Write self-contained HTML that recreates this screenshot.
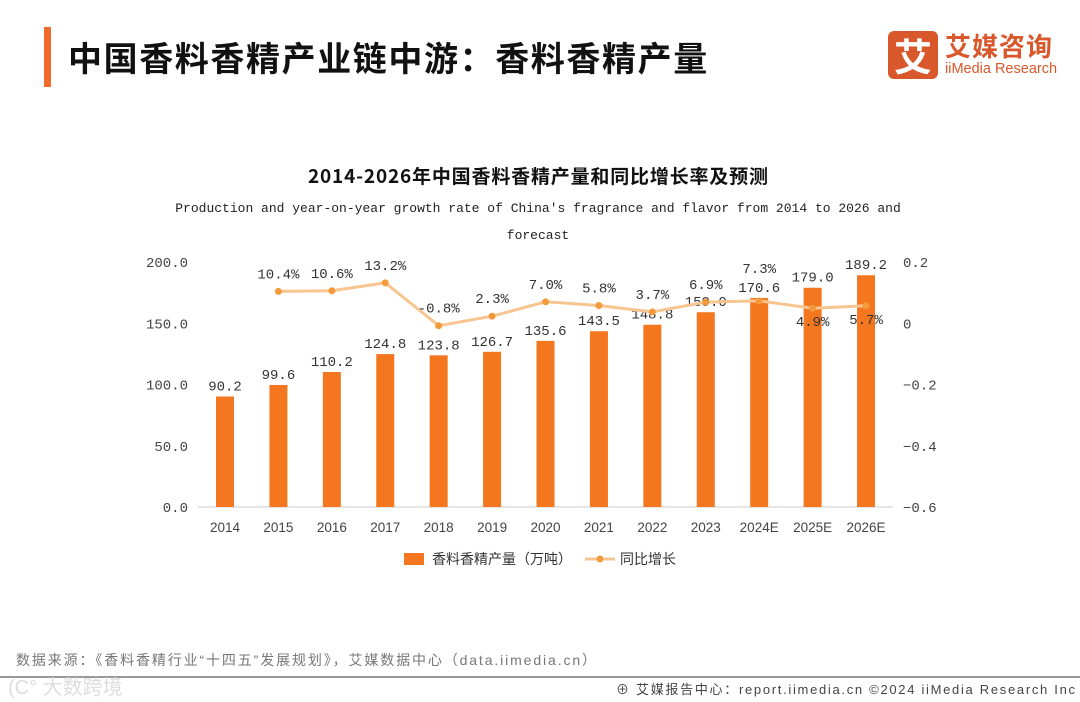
<!DOCTYPE html>
<html><head><meta charset="utf-8"><style>
body{margin:0;width:1080px;height:702px;background:#fff;overflow:hidden;position:relative;font-family:"Liberation Sans","Noto Sans CJK SC",sans-serif}
.abs{position:absolute}
</style></head><body>
<div class="abs" style="left:44px;top:27px;width:7px;height:60px;background:#ef6a2b"></div>
<div class="abs" style="left:68px;top:32px;font-size:34px;font-weight:bold;color:#111;font-family:'Noto Sans CJK SC',sans-serif;letter-spacing:1.6px">中国香料香精产业链中游：香料香精产量</div>
<div class="abs" style="left:888px;top:31px;width:175px;height:50px">
 <div style="position:absolute;left:0;top:0;width:50px;height:48px;background:#d9582b;border-radius:6px;color:#fff;font-size:38px;font-weight:bold;text-align:center;line-height:48px;font-family:'Noto Sans CJK SC',sans-serif">艾</div>
 <div style="position:absolute;left:57px;top:-4px;color:#d9582b;font-size:26px;font-weight:bold;font-family:'Noto Sans CJK SC',sans-serif;letter-spacing:1px">艾媒咨询</div>
 <div style="position:absolute;left:57px;top:30px;color:#d9582b;font-size:14.5px;white-space:nowrap">iiMedia Research</div>
</div>
<svg class="abs" style="left:0;top:0" width="1080" height="702" id="chart" font-family="Liberation Sans, Noto Sans CJK SC, sans-serif">
 <text x="538" y="183" text-anchor="middle" font-size="19" font-weight="bold" fill="#111" font-family="Noto Sans CJK SC, sans-serif" textLength="460">2014-2026年中国香料香精产量和同比增长率及预测</text>
 <text x="538" y="212" text-anchor="middle" font-size="13" fill="#222" font-family="Liberation Mono, monospace">Production and year-on-year growth rate of China's fragrance and flavor from 2014 to 2026 and</text>
 <text x="538" y="239" text-anchor="middle" font-size="13" fill="#222" font-family="Liberation Mono, monospace">forecast</text>
 <g id="plot"></g>
 <rect x="404" y="553" width="20" height="12" fill="#f4761f"/>
 <text x="432" y="564" font-size="14" fill="#333">香料香精产量（万吨）</text>
 <line x1="585" y1="559" x2="615" y2="559" stroke="#f8c591" stroke-width="3"/>
 <circle cx="600" cy="559" r="3.5" fill="#f39a3a"/>
 <text x="620" y="564" font-size="14" fill="#333">同比增长</text>
 <text x="16" y="665" font-size="14" fill="#777" textLength="580">数据来源：《香料香精行业“十四五”发展规划》，艾媒数据中心（data.iimedia.cn）</text>
 <line x1="0" y1="677" x2="1080" y2="677" stroke="#999" stroke-width="2"/>
 <text x="8" y="694" font-size="20" fill="#ddd">(C° 大数跨境</text>
 <text x="616" y="694" font-size="13" fill="#444" textLength="459">⊕ 艾媒报告中心：report.iimedia.cn  ©2024  iiMedia Research Inc</text>
</svg>
<script>
const categories=["2014","2015","2016","2017","2018","2019","2020","2021","2022","2023","2024E","2025E","2026E"];
const production=[90.2,99.6,110.2,124.8,123.8,126.7,135.6,143.5,148.8,159.0,170.6,179.0,189.2];
const growth=[null,0.104,0.106,0.132,-0.008,0.023,0.070,0.058,0.037,0.069,0.073,0.049,0.057];
const growthLabels=["","10.4%","10.6%","13.2%","-0.8%","2.3%","7.0%","5.8%","3.7%","6.9%","7.3%","4.9%","5.7%"];
const leftTicks=["0.0","50.0","100.0","150.0","200.0"];
const rightTicks=["-0.6","-0.4","-0.2","0","0.2"];
const NS="http://www.w3.org/2000/svg";
const g=document.getElementById('plot');
const yL=v=>507-v*(245/200);
const yR=v=>507-(v+0.6)*(245/0.8);
const xC=i=>225+i*53.42;
function mk(t,a,txt){const e=document.createElementNS(NS,t);for(const k in a)e.setAttribute(k,a[k]);if(txt!==undefined)e.textContent=txt;g.appendChild(e);return e;}
leftTicks.forEach(t=>{const e=mk('text',{x:188,y:yL(parseFloat(t))+5,'text-anchor':'end','font-size':14,fill:'#444','font-family':'Liberation Mono, monospace'},t);

});
rightTicks.forEach(t=>{const e=mk('text',{x:903,y:yR(parseFloat(t))+5,'font-size':14,fill:'#444','font-family':'Liberation Mono, monospace'},t.replace('-','−'));

});
mk('line',{x1:198,y1:507,x2:893,y2:507,stroke:'#ccc'});
categories.forEach((c,i)=>{
 const b=mk('rect',{x:xC(i)-9,y:yL(production[i]),width:18,height:507-yL(production[i]),fill:'#f4761f'});
 
 
 const l=mk('text',{x:xC(i),y:yL(production[i])-6,'text-anchor':'middle','font-size':14,fill:'#333','font-family':'Liberation Mono, monospace'},production[i].toFixed(1));
 
 
 const xl=mk('text',{x:xC(i),y:532,'text-anchor':'middle','font-size':13.5,fill:'#444'},c);
 
 
});
let d='';growth.forEach((v,i)=>{if(v===null)return;d+=(d?'L':'M')+xC(i)+','+yR(v);});
const ln=mk('path',{d:d,fill:'none',stroke:'#f8c591','stroke-width':3});


growth.forEach((v,i)=>{if(v===null)return;
 const p=mk('circle',{cx:xC(i),cy:yR(v),r:3.5,fill:'#f39a3a'});
 
 
 let ly=yR(v)-13; if(i===10)ly=yR(v)-28; if(i>=11)ly=yR(v)+18;
 const t=mk('text',{x:xC(i),y:ly,'text-anchor':'middle','font-size':14,fill:'#333','font-family':'Liberation Mono, monospace'},growthLabels[i]);
 
 
});
</script>
</body></html>
